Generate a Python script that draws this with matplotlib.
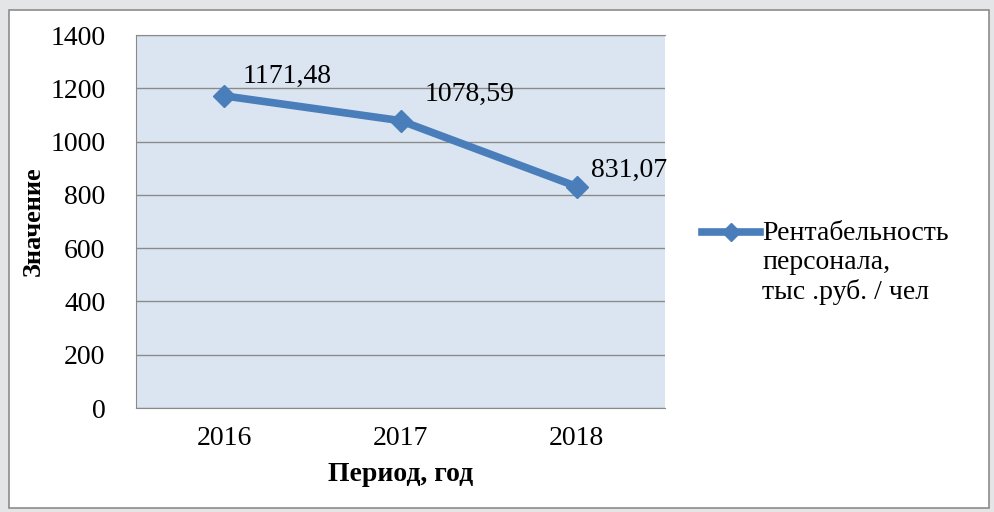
import matplotlib
matplotlib.use('Agg')
import matplotlib.pyplot as plt
from matplotlib.patches import Rectangle
from matplotlib.lines import Line2D

# Данные
years = ['2016', '2017', '2018']
values = [1171.48, 1078.59, 831.07]
value_labels = ['1171,48', '1078,59', '831,07']
label_offsets = [(13, 14), (17, 19), (10, 12)]  # смещение подписей, pt
series_name = 'Рентабельность\nперсонала,\nтыс .руб. / чел'
y_ticks = [0, 200, 400, 600, 800, 1000, 1200, 1400]

plt.rcParams['font.family'] = ['Liberation Serif', 'DejaVu Serif']
FS = 20
line_color = '#4a7ebb'

fig = plt.figure(figsize=(9.94, 5.12), dpi=100)
fig.patch.set_facecolor('#e3e5e7')

# белая рамка диаграммы
W, H = 994, 512
frame = Rectangle((9 / W, 4 / H), 980 / W, 498 / H, transform=fig.transFigure,
                  facecolor='white', edgecolor='#8c8c8c', linewidth=1.2, zorder=-5)
fig.patches.append(frame)

ax = fig.add_axes([136 / W, 1 - 408 / H, 529 / W, 373 / H])
ax.set_facecolor('#dbe5f1')

x = range(len(years))
ax.plot(x, values, color=line_color, linewidth=5.5, marker='D',
        markersize=11, zorder=3)

for i, (v, t) in enumerate(zip(values, value_labels)):
    ax.annotate(t, (i, v), xytext=label_offsets[i], textcoords='offset points',
                fontsize=FS, va='center', ha='left', color='black')

ax.set_xlim(-0.5, len(years) - 0.5)
ax.set_ylim(0, 1400)
ax.set_yticks(y_ticks)
ax.set_xticks(list(x))
ax.set_xticklabels(years)
ax.tick_params(axis='both', length=0, labelsize=FS)
ax.tick_params(axis='y', pad=22)
ax.tick_params(axis='x', pad=13)
ax.yaxis.grid(True, color='#8a8a8a', linewidth=1.0)
ax.set_axisbelow(True)
for s in ['left', 'bottom', 'top']:
    ax.spines[s].set_color('#8a8a8a')
ax.spines['right'].set_visible(False)

ax.set_xlabel('Период, год', fontsize=FS, fontweight='bold', labelpad=8)
ax.set_ylabel('Значение', fontsize=19, fontweight='bold', labelpad=4)

# легенда: значок на уровне первой строки подписи
fig.add_artist(Line2D([702 / W, 731 / W, 760 / W], [1 - 232 / H] * 3,
                      transform=fig.transFigure, color=line_color, linewidth=5.5,
                      marker='D', markersize=9, markevery=[1]))
fig.text(762 / W, 1 - 263 / H, series_name, fontsize=FS, va='center', ha='left')

fig.savefig('out.png', dpi=100, facecolor=fig.get_facecolor())
